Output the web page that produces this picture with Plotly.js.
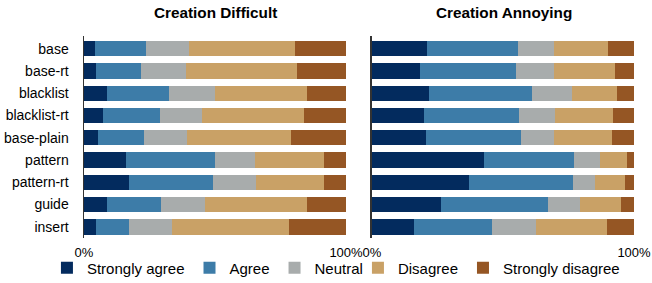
<!DOCTYPE html>
<html>
<head>
<meta charset="utf-8">
<script src="https://cdn.plot.ly/plotly-3.0.1.min.js"></script>
<style>html,body{margin:0;padding:0;background:#fff;}#chart{width:652px;height:283px;}</style>
</head>
<body>
<div id="chart"></div>
<script>
const categories = ["base","base-rt","blacklist","blacklist-rt","base-plain","pattern","pattern-rt","guide","insert"];
const seriesNames = ["Strongly agree","Agree","Neutral","Disagree","Strongly disagree"];
const seriesColors = ["#032b5e","#3d7ca8","#a8acac","#c9a166","#955624"];
const seriesLegend = ["legend","legend","legend","legend2","legend2"];

// Creation Difficult (percent)
const difficultStronglyAgree    = [4.2, 4.5, 8.7, 7.4, 5.5, 15.9, 17.2, 8.8, 4.5];
const difficultAgree            = [19.6, 17.4, 23.9, 21.5, 17.3, 34.0, 32.0, 20.5, 12.7];
const difficultNeutral          = [16.3, 17.0, 17.4, 16.0, 16.4, 15.3, 16.3, 17.0, 16.3];
const difficultDisagree         = [40.5, 42.5, 35.1, 39.2, 39.7, 26.5, 26.1, 38.9, 44.6];
const difficultStronglyDisagree = [19.4, 18.6, 14.9, 15.9, 21.1, 8.3, 8.4, 14.8, 21.9];

// Creation Annoying (percent)
const annoyingStronglyAgree    = [20.9, 18.2, 21.9, 19.7, 20.6, 42.6, 36.9, 26.3, 15.9];
const annoyingAgree            = [34.7, 36.9, 39.2, 36.5, 36.1, 34.4, 39.8, 40.8, 29.9];
const annoyingNeutral          = [13.7, 14.2, 15.4, 13.5, 12.6, 9.9, 8.3, 12.2, 16.7];
const annoyingDisagree         = [20.7, 23.3, 16.9, 22.2, 22.2, 10.6, 11.7, 15.7, 27.2];
const annoyingStronglyDisagree = [10.0, 7.4, 6.6, 8.1, 8.5, 2.5, 3.3, 5.0, 10.3];

const difficult = [difficultStronglyAgree, difficultAgree, difficultNeutral, difficultDisagree, difficultStronglyDisagree];
const annoying  = [annoyingStronglyAgree, annoyingAgree, annoyingNeutral, annoyingDisagree, annoyingStronglyDisagree];

const traces = [];
seriesNames.forEach((name, i) => {
  traces.push({
    type: 'bar', orientation: 'h', name: name,
    x: difficult[i], y: categories, xaxis: 'x', yaxis: 'y',
    marker: {color: seriesColors[i], line: {width: 0}},
    legendgroup: name, legend: seriesLegend[i], showlegend: true, hoverinfo: 'x+y+name'
  });
});
seriesNames.forEach((name, i) => {
  traces.push({
    type: 'bar', orientation: 'h', name: name,
    x: annoying[i], y: categories, xaxis: 'x2', yaxis: 'y2',
    marker: {color: seriesColors[i], line: {width: 0}},
    legendgroup: name, legend: seriesLegend[i], showlegend: false, hoverinfo: 'x+y+name'
  });
});

const font = {family: 'Liberation Sans, Arial, sans-serif', size: 13, color: '#000'};
const xCommon = {
  range: [0, 100], tickvals: [0, 100], ticktext: ['0%', '100%'],
  showgrid: true, gridcolor: '#c8c8c8', gridwidth: 1.5, zeroline: false,
  showline: false, ticks: '', tickfont: {size: 13}, fixedrange: true,
  ticklabeloverflow: 'allow', ticklabelstandoff: 5
};
const yCommon = {
  range: [8.5, -0.57], showline: true, linecolor: '#333', linewidth: 1.5,
  ticks: '', showgrid: false, zeroline: false, tickfont: {size: 14}, fixedrange: true
};
const legendCommon = {
  orientation: 'h', xref: 'container', xanchor: 'left', yref: 'container', y: 0.053, yanchor: 'middle',
  font: {size: 15}, traceorder: 'normal', itemwidth: 30, bgcolor: 'rgba(0,0,0,0)'
};

const layout = {
  width: 652, height: 283,
  margin: {l: 84, r: 18, t: 36, b: 45},
  paper_bgcolor: '#fff', plot_bgcolor: '#fff',
  font: font,
  barmode: 'stack', bargap: 0.31,
  showlegend: true,
  legend: Object.assign({x: 0.072}, legendCommon),
  legend2: Object.assign({x: 0.549}, legendCommon),
  xaxis: Object.assign({domain: [0, 0.4764], anchor: 'y'}, xCommon),
  xaxis2: Object.assign({domain: [0.5236, 1], anchor: 'y2'}, xCommon),
  yaxis: Object.assign({anchor: 'x', ticklabelstandoff: 11}, yCommon),
  yaxis2: Object.assign({anchor: 'x2', showticklabels: false}, yCommon),
  annotations: [
    {text: '<b>Creation Difficult</b>', xref: 'paper', yref: 'paper', x: 0.239, y: 1.115,
     xanchor: 'center', yanchor: 'middle', showarrow: false, font: {size: 15.3}},
    {text: '<b>Creation Annoying</b>', xref: 'paper', yref: 'paper', x: 0.763, y: 1.115,
     xanchor: 'center', yanchor: 'middle', showarrow: false, font: {size: 15.3}}
  ]
};

Plotly.newPlot('chart', traces, layout, {displayModeBar: false, staticPlot: true});
</script>
</body>
</html>
